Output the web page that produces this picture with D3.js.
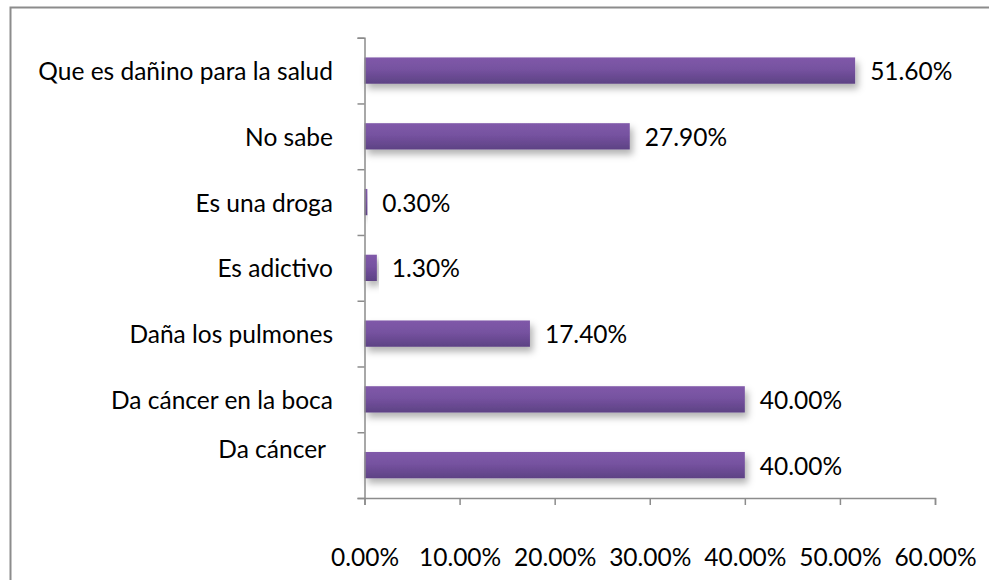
<!DOCTYPE html>
<html>
<head>
<meta charset="utf-8">
<script src="https://cdn.jsdelivr.net/npm/d3@7"></script>
<style>
  body { margin: 0; background: #fff; }
  text { font-family: Lato, "Open Sans", sans-serif; fill: #000; }
</style>
</head>
<body>
<div id="vis"></div>
<script>
const FRAME_WIDTH = 989;
const FRAME_HEIGHT = 580;
const MARGINS = {left: 364.5, right: 54, top: 37.7, bottom: 82};
const VIS_WIDTH = FRAME_WIDTH - MARGINS.left - MARGINS.right;
const VIS_HEIGHT = FRAME_HEIGHT - MARGINS.top - MARGINS.bottom;
const FONT_SIZE = 24.5;

// data, top to bottom
const categories = ["Que es dañino para la salud", "No sabe", "Es una droga", "Es adictivo",
  "Daña los pulmones", "Da cáncer en la boca", "Da cáncer"];
const values = [51.6, 27.9, 0.3, 1.3, 17.4, 40.0, 40.0];
const xTicks = [0, 10, 20, 30, 40, 50, 60];

const svg = d3.select("#vis")
  .append("svg")
    .attr("width", FRAME_WIDTH)
    .attr("height", FRAME_HEIGHT);

// outer chart border (cropped on the right and bottom)
svg.append("rect")
  .attr("x", 10.5).attr("y", 7.5)
  .attr("width", 1000).attr("height", 600)
  .attr("fill", "none")
  .attr("stroke", "#8c8c8c")
  .attr("stroke-width", 2);

const defs = svg.append("defs");
const grad = defs.append("linearGradient")
  .attr("id", "barGrad")
  .attr("x1", 0).attr("y1", 0).attr("x2", 0).attr("y2", 1);
grad.append("stop").attr("offset", "0%").attr("stop-color", "#8059a9");
grad.append("stop").attr("offset", "45%").attr("stop-color", "#7652a0");
grad.append("stop").attr("offset", "100%").attr("stop-color", "#5d4284");

const shadow = defs.append("filter")
  .attr("id", "shadow")
  .attr("x", "-5%").attr("y", "-30%").attr("width", "115%").attr("height", "190%");
shadow.append("feDropShadow")
  .attr("dx", 3).attr("dy", 5)
  .attr("stdDeviation", 3.5)
  .attr("flood-color", "#000")
  .attr("flood-opacity", 0.3);

const xScale = d3.scaleLinear()
  .domain([0, 60])
  .range([0, VIS_WIDTH]);

const yScale = d3.scaleBand()
  .domain(categories)
  .range([0, VIS_HEIGHT])
  .paddingInner(0.6)
  .paddingOuter(0.3);

const g = svg.append("g")
  .attr("transform", "translate(" + MARGINS.left + "," + MARGINS.top + ")");

// bars
g.selectAll(".bar")
  .data(values)
  .enter()
  .append("rect")
    .attr("class", "bar")
    .attr("x", 0)
    .attr("y", (d, i) => yScale(categories[i]))
    .attr("width", d => xScale(d))
    .attr("height", yScale.bandwidth())
    .attr("fill", "url(#barGrad)")
    .attr("filter", "url(#shadow)");

// value labels
g.selectAll(".val")
  .data(values)
  .enter()
  .append("text")
    .attr("class", "val")
    .attr("x", d => xScale(d) + 15)
    .attr("y", (d, i) => yScale(categories[i]) + yScale.bandwidth() / 2)
    .attr("dominant-baseline", "central")
    .attr("font-size", FONT_SIZE)
    .text(d => d.toFixed(2) + "%");

// y axis: ticks between categories
const yAxisScale = d3.scaleLinear().domain([0, categories.length]).range([0, VIS_HEIGHT]);
const yAxis = g.append("g")
  .call(d3.axisLeft(yAxisScale).tickValues(d3.range(0, categories.length + 1)).tickSize(7).tickFormat(""));
yAxis.select(".domain").attr("stroke", "#8c8c8c").attr("stroke-width", 1.5);
yAxis.selectAll(".tick line").attr("stroke", "#8c8c8c").attr("stroke-width", 1.5);

// category labels
g.selectAll(".cat")
  .data(categories)
  .enter()
  .append("text")
    .attr("class", "cat")
    .attr("x", d => d === "Da cáncer" ? -38.5 : -31.5)
    .attr("y", d => yScale(d) + yScale.bandwidth() / 2 + (d === "Da cáncer" ? -17 : 0))
    .attr("text-anchor", "end")
    .attr("dominant-baseline", "central")
    .attr("font-size", FONT_SIZE)
    .text(d => d);

// x axis
const xAxis = g.append("g")
  .attr("transform", "translate(0," + VIS_HEIGHT + ")")
  .call(d3.axisBottom(xScale).tickValues(xTicks).tickSize(7).tickPadding(44)
    .tickFormat(d => d.toFixed(2) + "%"));
xAxis.select(".domain").attr("stroke", "#8c8c8c").attr("stroke-width", 1.5);
xAxis.selectAll(".tick line").attr("stroke", "#8c8c8c").attr("stroke-width", 1.5);
xAxis.selectAll(".tick text")
  .attr("font-size", FONT_SIZE)
  .attr("fill", "#000")
  .style("font-family", "Lato, 'Open Sans', sans-serif");
</script>
</body>
</html>
